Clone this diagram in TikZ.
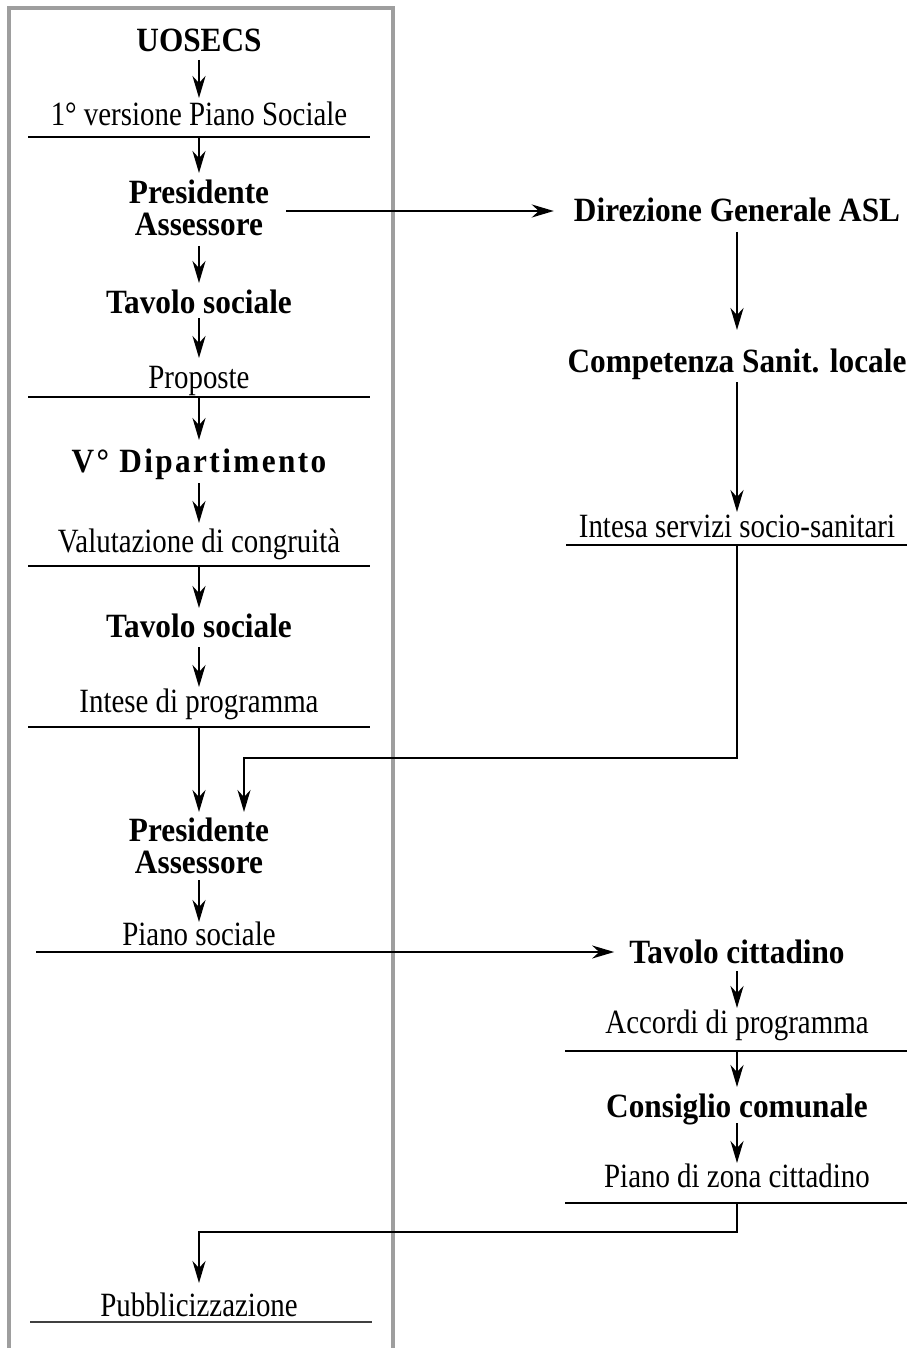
\documentclass[tikz,border=0pt]{standalone}
\usepackage{fontspec}
\newfontfamily\rgfont{Liberation Serif}[FakeStretch=0.85]
\newfontfamily\bdfont{Liberation Serif}[FakeStretch=0.92]
\usetikzlibrary{arrows.meta,calc}
\begin{document}
\begin{tikzpicture}[x=1pt,y=-1pt,
  rg/.style={inner sep=0pt, anchor=base, font=\rgfont\fontsize{34}{34}\selectfont},
  bd/.style={inner sep=0pt, anchor=base, font=\bdfont\bfseries\fontsize{34}{34}\selectfont},
  vd/.style={font=\bdfont\bfseries\fontsize{34}{34}\selectfont\addfontfeature{LetterSpace=7}},
  arr/.style={line width=2.2pt, -{Stealth[length=22pt,width=13pt,inset=7pt]}},
  rulel/.style={line width=1.4pt},
  frame/.style={line width=4pt, draw=black!38}]
\useasboundingbox (0,0) rectangle (910,1348);
\fill[white] (0,0) rectangle (910,1348);
\draw[frame] (9,8) rectangle (393,1400);

% left column
\node[bd] (uosecs) at (199,52) {UOSECS};
\node[rg] (v1) at (199,126) {1°~versione Piano Sociale};
\node[bd] (pres1) at (199,204) {Presidente};
\node[bd] (ass1) at (199,236) {Assessore};
\node[bd] (ts1) at (199,313) {Tavolo sociale};
\node[rg] (prop) at (199,388) {Proposte};
\node[bd, vd] (vdip) at (199,472) {V° Dipartimento};
\node[rg] (val) at (199,552) {Valutazione di congruità};
\node[bd] (ts2) at (199,637) {Tavolo sociale};
\node[rg] (intese) at (199,712) {Intese di programma};
\node[bd] (pres2) at (199,841) {Presidente};
\node[bd] (ass2) at (199,873) {Assessore};
\node[rg] (ps) at (199,945) {Piano sociale};
\node[rg] (pubb) at (199,1316) {Pubblicizzazione};

% right column
\node[bd] (dir) at (737,222) {Direzione Generale ASL};
\node[bd] (comp) at (737,372) {Competenza Sanit. locale};
\node[rg] (int) at (737,537) {Intesa servizi socio-sanitari};
\node[bd] (tc) at (737,963) {Tavolo cittadino};
\node[rg] (acc) at (737,1033) {Accordi di programma};
\node[bd] (cc) at (737,1117) {Consiglio comunale};
\node[rg] (pz) at (737,1187) {Piano di zona cittadino};

% underlines
\coordinate (u1) at (199,137);
\coordinate (u2) at (199,397);
\coordinate (u3) at (199,566);
\coordinate (u4) at (199,727);
\coordinate (u5) at (737,545);
\coordinate (u6) at (737,1051);
\coordinate (u7) at (737,1203);
\draw[rulel] (28,137) -- (370,137);
\draw[rulel] (28,397) -- (370,397);
\draw[rulel] (28,566) -- (370,566);
\draw[rulel] (28,727) -- (370,727);
\draw[rulel, draw=black!75] (30,1322) -- (372,1322);
\draw[rulel] (566,545) -- (907,545);
\draw[rulel] (565,1051) -- (907,1051);
\draw[rulel] (565,1203) -- (907,1203);

% connectors left
\draw[arr] ($(uosecs.base)+(0,8)$) -- ($(v1.base)+(0,-28)$);
\draw[arr] (u1) -- ($(pres1.base)+(0,-31)$);
\draw[arr] ($(pres1.base east)+(17,7)$) -- ($(dir.base west)+(-20,-11)$);
\draw[arr] ($(ass1.base)+(0,10)$) -- ($(ts1.base)+(0,-30)$);
\draw[arr] ($(ts1.base)+(0,5)$) -- ($(prop.base)+(0,-30)$);
\draw[arr] (u2) -- ($(vdip.base)+(0,-32)$);
\draw[arr] ($(vdip.base)+(0,11)$) -- ($(val.base)+(0,-29)$);
\draw[arr] (u3) -- ($(ts2.base)+(0,-29)$);
\draw[arr] ($(ts2.base)+(0,10)$) -- ($(intese.base)+(0,-25)$);
\draw[arr] (u4) -- ($(pres2.base)+(0,-29)$);
\draw[arr] ($(ass2.base)+(0,7)$) -- ($(ps.base)+(0,-23)$);
\coordinate (pl) at (36,952);
\draw[arr] (pl) -- ($(tc.base west)+(-15,-11)$);

% connectors right
\draw[arr] ($(dir.base)+(0,10)$) -- ($(comp.base)+(0,-42)$);
\draw[arr] ($(comp.base)+(0,10)$) -- ($(int.base)+(0,-25)$);
\coordinate (k1) at (737,758);
\coordinate (k2) at (244,758);
\draw[arr] (u5) -- (k1) -- (k2) -- ($(pres2.base)+(45,-29)$);
\draw[arr] ($(tc.base)+(0,8)$) -- ($(acc.base)+(0,-25)$);
\draw[arr] (u6) -- ($(cc.base)+(0,-30)$);
\draw[arr] ($(cc.base)+(0,6)$) -- ($(pz.base)+(0,-24)$);
\coordinate (k3) at (737,1232);
\coordinate (k4) at (199,1232);
\draw[arr] (u7) -- (k3) -- (k4) -- ($(pubb.base)+(0,-33)$);
\end{tikzpicture}
\end{document}
